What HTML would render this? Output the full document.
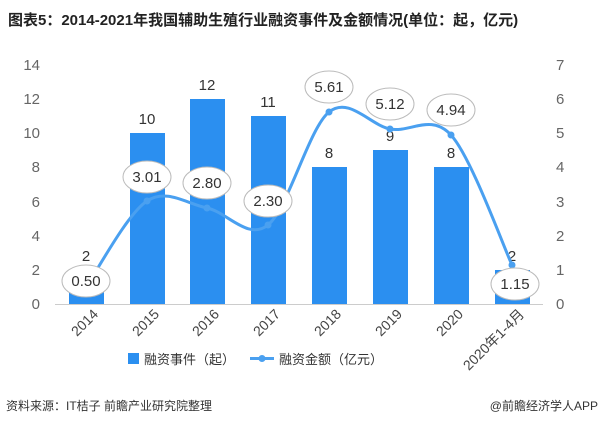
<!DOCTYPE html>
<html><head><meta charset="utf-8"><style>
body{margin:0;background:#fff;}
svg text{font-family:"Liberation Sans","Noto Sans CJK SC",sans-serif;}
</style></head><body>
<svg width="602" height="426" viewBox="0 0 602 426" xmlns="http://www.w3.org/2000/svg">
<text x="8" y="25" font-size="15" font-weight="bold" fill="#222">图表5：2014-2021年我国辅助生殖行业融资事件及金额情况(单位：起，亿元)</text>
<g font-size="15" fill="#666">
<text x="40" y="70" text-anchor="end">14</text>
<text x="40" y="104" text-anchor="end">12</text>
<text x="40" y="138" text-anchor="end">10</text>
<text x="40" y="172" text-anchor="end">8</text>
<text x="40" y="207" text-anchor="end">6</text>
<text x="40" y="241" text-anchor="end">4</text>
<text x="40" y="275" text-anchor="end">2</text>
<text x="40" y="309" text-anchor="end">0</text>
<text x="556" y="70">7</text>
<text x="556" y="104">6</text>
<text x="556" y="138">5</text>
<text x="556" y="172">4</text>
<text x="556" y="207">3</text>
<text x="556" y="241">2</text>
<text x="556" y="275">1</text>
<text x="556" y="309">0</text>
</g>
<line x1="55" y1="304.5" x2="543" y2="304.5" stroke="#ccc"/>
<g fill="#2b8ff0">
<rect x="69" y="270" width="35" height="34"/>
<rect x="130" y="133" width="35" height="171"/>
<rect x="190" y="99" width="35" height="205"/>
<rect x="251" y="116" width="35" height="188"/>
<rect x="312" y="167" width="35" height="137"/>
<rect x="373" y="150" width="35" height="154"/>
<rect x="434" y="167" width="35" height="137"/>
<rect x="495" y="270" width="35" height="34"/>
</g>
<g font-size="15" fill="#333" text-anchor="middle">
<text x="86" y="261">2</text>
<text x="147" y="124">10</text>
<text x="207" y="90">12</text>
<text x="268" y="107">11</text>
<text x="329" y="158">8</text>
<text x="390" y="141">9</text>
<text x="451" y="158">8</text>
<text x="512" y="261">2</text>
</g>
<path d="M86,287 C96,273 127,214 147,201 C167,188 187,204 207,208 C227,212 248,241 268,225 C288,209 309,128 329,112 C349,96 370,125 390,129 C410,133 431,113 451,135 C471,157 502,243 512,265" fill="none" stroke="#4aa0f0" stroke-width="3"/>
<g fill="#4aa0f0">
<circle cx="86" cy="287" r="3.5"/><circle cx="147" cy="201" r="3.5"/><circle cx="207" cy="208" r="3.5"/><circle cx="268" cy="225" r="3.5"/><circle cx="329" cy="112" r="3.5"/><circle cx="390" cy="129" r="3.5"/><circle cx="451" cy="135" r="3.5"/><circle cx="512" cy="265" r="3.5"/>
</g>
<g fill="#fff" stroke="#bbb" stroke-width="1">
<ellipse cx="86" cy="281" rx="24" ry="16"/>
<ellipse cx="147" cy="177" rx="24" ry="16"/>
<ellipse cx="207" cy="183" rx="24" ry="16"/>
<ellipse cx="268" cy="201" rx="24" ry="16"/>
<ellipse cx="329" cy="87" rx="24" ry="16"/>
<ellipse cx="390" cy="104" rx="24" ry="16"/>
<ellipse cx="451" cy="110" rx="24" ry="16"/>
<ellipse cx="515" cy="284" rx="24" ry="16"/>
</g>
<g font-size="15" fill="#333" text-anchor="middle">
<text x="86" y="286">0.50</text>
<text x="147" y="182">3.01</text>
<text x="207" y="188">2.80</text>
<text x="268" y="206">2.30</text>
<text x="329" y="92">5.61</text>
<text x="390" y="109">5.12</text>
<text x="451" y="115">4.94</text>
<text x="515" y="289">1.15</text>
</g>
<g font-size="14" fill="#444" text-anchor="end">
<text transform="translate(99,315) rotate(-45)">2014</text>
<text transform="translate(160,315) rotate(-45)">2015</text>
<text transform="translate(220,315) rotate(-45)">2016</text>
<text transform="translate(281,315) rotate(-45)">2017</text>
<text transform="translate(342,315) rotate(-45)">2018</text>
<text transform="translate(403,315) rotate(-45)">2019</text>
<text transform="translate(464,315) rotate(-45)">2020</text>
<text transform="translate(525,315) rotate(-45)">2020年1-4月</text>
</g>
<rect x="128" y="353" width="11" height="11" fill="#2b8ff0"/>
<text x="144" y="364" font-size="13" fill="#333">融资事件（起）</text>
<line x1="250" y1="358.5" x2="274" y2="358.5" stroke="#4aa0f0" stroke-width="3"/>
<circle cx="262" cy="358.5" r="3.5" fill="#4aa0f0"/>
<text x="279" y="364" font-size="13" fill="#333">融资金额（亿元）</text>
<text x="6" y="410" font-size="12" fill="#333">资料来源：IT桔子 前瞻产业研究院整理</text>
<text x="598" y="410" font-size="12" fill="#333" text-anchor="end">@前瞻经济学人APP</text>
</svg>
</body></html>
